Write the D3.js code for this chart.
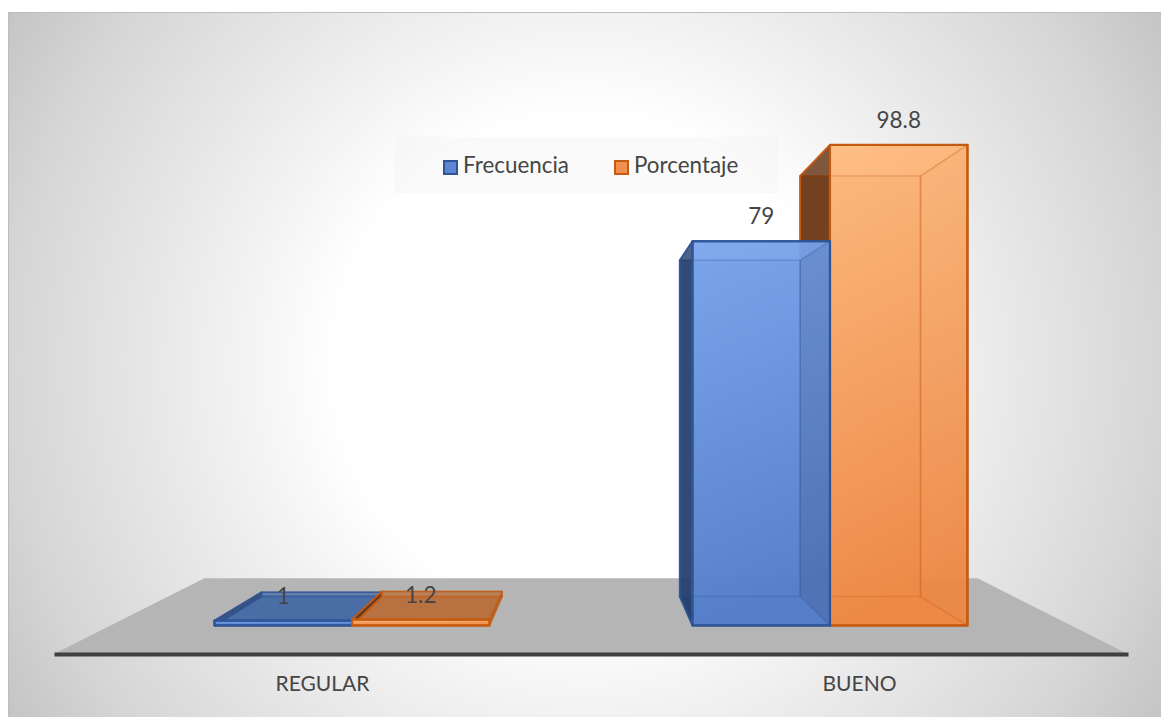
<!DOCTYPE html>
<html lang="en">
<head>
    <meta charset="UTF-8">
    <title>Frecuencia y porcentaje</title>
    <style>
        html, body { margin: 0; padding: 0; background: #fff; }
        svg { display: block; }
        text { font-family: Lato, sans-serif; fill: #454545; }
    </style>
</head>
<body>
<svg width="1161" height="717"></svg>
<script src="https://cdn.jsdelivr.net/npm/d3@7"></script>
<script>
    var categories = ["REGULAR", "BUENO"];
    var seriesNames = ["Frecuencia", "Porcentaje"];
    var frecuencia = [1, 79];
    var porcentaje = [1.2, 98.8];
    var seriesValues = [frecuencia, porcentaje];

    var seriesColors = {
        Frecuencia: {id: "blue", line: "#2f5597", top: "#7ba6ee", bottom: "#5680ca", side: "#1f3864", under: "#46679f", swatch: "#5b86d4", shade: 0.13},
        Porcentaje: {id: "orange", line: "#c55a11", top: "#ffbc80", bottom: "#f08a46", side: "#5c2c0a", under: "#b06a3c", swatch: "#f08f4e", shade: 0.02}
    };

    var svg = d3.select("svg");
    var defs = svg.append("defs");

    // perspective: everything shrinks towards this point, k = 1 is the front of the floor
    var vanish = {x: 591, y: 394},
        floorFront = 654,
        barFront = 0.89,
        barBack = 0.779,
        floorBack = 0.72;

    function project(x, y, k) {
        return [vanish.x + (x - vanish.x) * k, vanish.y + (y - vanish.y) * k];
    }

    var xScale = d3.scaleBand().domain(categories).range([54, 1128]).paddingInner(0.4246).paddingOuter(0.2123);
    var xSeries = d3.scaleBand().domain(seriesNames).range([0, xScale.bandwidth()]);
    var yScale = d3.scaleLinear().domain([0, 100]).range([floorFront, 107.6]);

    // chart area background
    var bgGrad = defs.append("radialGradient")
        .attr("id", "bgGrad")
        .attr("gradientUnits", "userSpaceOnUse")
        .attr("cx", 585).attr("cy", 365).attr("r", 690);
    [[0.36, "#ffffff"], [0.54, "#efefef"], [0.83, "#d6d6d6"], [1, "#c2c2c2"]].forEach(function(s) {
        bgGrad.append("stop").attr("offset", s[0]).attr("stop-color", s[1]);
    });

    svg.append("rect")
        .attr("x", 8).attr("y", 12)
        .attr("width", 1153).attr("height", 705)
        .attr("fill", "url(#bgGrad)");
    svg.append("path")
        .attr("d", "M8.5,717V12.5H1161")
        .attr("fill", "none")
        .attr("stroke", "#bdbdbd");

    // front faces get a vertical gradient per series
    seriesNames.forEach(function(name) {
        var c = seriesColors[name];
        var grad = defs.append("linearGradient")
            .attr("id", "front-" + c.id)
            .attr("x1", 0).attr("y1", 0).attr("x2", 0.15).attr("y2", 1);
        grad.append("stop").attr("offset", 0).attr("stop-color", c.top);
        grad.append("stop").attr("offset", 1).attr("stop-color", c.bottom);
    });

    // floor
    var floorLeft = xScale.range()[0], floorRight = xScale.range()[1];
    svg.append("path")
        .attr("d", d3.line()([
            [floorLeft, floorFront],
            project(floorLeft, floorFront - 4, floorBack),
            project(floorRight, floorFront - 4, floorBack),
            [floorRight, floorFront]
        ]) + "Z")
        .attr("fill", "#b5b5b5");

    // flat list of bars, bars nearest the middle are painted last
    var bars = [];
    categories.forEach(function(cat, i) {
        var names = seriesNames.slice();
        if (xScale(cat) > vanish.x) names.reverse();
        names.forEach(function(name) {
            bars.push({category: cat, series: name, value: seriesValues[seriesNames.indexOf(name)][i]});
        });
    });

    function corners(d, k) {
        var x0 = xScale(d.category) + xSeries(d.series),
            x1 = x0 + xSeries.bandwidth(),
            yTop = yScale(d.value),
            yBase = yScale(0);
        return {
            tl: project(x0, yTop, k),
            tr: project(x1, yTop, k),
            br: project(x1, yBase, k),
            bl: project(x0, yBase, k)
        };
    }

    function face(g, pts, fill, opacity, stroke, strokeOpacity, width) {
        g.append("path")
            .attr("d", d3.line()(pts) + "Z")
            .attr("fill", fill)
            .attr("fill-opacity", opacity)
            .attr("stroke", stroke)
            .attr("stroke-opacity", strokeOpacity)
            .attr("stroke-width", width)
            .attr("stroke-linejoin", "round");
    }

    var barGroups = svg.selectAll(".bar")
        .data(bars)
        .enter()
        .append("g")
        .attr("class", "bar");

    barGroups.each(function(d) {
        var g = d3.select(this),
            c = seriesColors[d.series],
            f = corners(d, barFront),
            b = corners(d, barBack);

        // back, under, top, left, front, then the right side shaded over the front
        face(g, [b.tl, b.tr, b.br, b.bl], c.under, 0.75, c.line, 0.6, 1.5);
        face(g, [f.bl, f.br, b.br, b.bl], c.under, 1, c.line, 0.7, 1.5);
        face(g, [f.tl, f.tr, b.tr, b.tl], c.top, 0.1, c.line, 0.6, 1.5);
        face(g, [f.tl, b.tl, b.bl, f.bl], c.side, 0.78, c.line, 0.9, 2);
        face(g, [f.tl, f.tr, f.br, f.bl], "url(#front-" + c.id + ")", 0.95, c.line, 1, 2.2);
        face(g, [f.tr, b.tr, b.br, f.br], c.side, c.shade, c.line, 0.3, 1.5);
        // back edges show faintly through the glass
        face(g, [b.tl, b.tr, b.br, b.bl], "none", 0, c.line, 0.22, 1.5);
        g.append("path")
            .attr("d", d3.line()([f.tl, f.tr, f.br, f.bl]) + "Z")
            .attr("fill", "none")
            .attr("stroke", c.line)
            .attr("stroke-width", 2)
            .attr("stroke-linejoin", "round");
    });

    // value labels, centred on the front face
    svg.selectAll(".value")
        .data(bars)
        .enter()
        .append("text")
        .attr("class", "value")
        .attr("text-anchor", "middle")
        .attr("font-size", 22.5)
        .attr("x", function(d) {
            var f = corners(d, barFront);
            return (f.tl[0] + f.tr[0]) / 2;
        })
        .attr("y", function(d) { return corners(d, barFront).tl[1] - 17; })
        .text(function(d) { return d.value; });

    // category axis
    var axis = svg.append("g")
        .attr("transform", "translate(0," + floorFront + ")")
        .call(d3.axisBottom(xScale).tickSize(0).tickPadding(22).tickSizeOuter(0));
    axis.select(".domain").attr("stroke", "#404040").attr("stroke-width", 4);
    axis.selectAll("text").attr("font-size", 21).style("font-family", "Lato, sans-serif").attr("fill", "#454545");

    // legend
    svg.append("rect")
        .attr("x", 395).attr("y", 137)
        .attr("width", 383).attr("height", 56)
        .attr("fill", "#f2f2f2")
        .attr("fill-opacity", 0.4);

    var legendX = d3.scaleOrdinal().domain(seriesNames).range([443, 614]);
    var legend = svg.selectAll(".legend")
        .data(seriesNames)
        .enter()
        .append("g")
        .attr("class", "legend")
        .attr("transform", function(d) { return "translate(" + legendX(d) + ",160)"; });

    legend.append("rect")
        .attr("x", 1).attr("y", 1)
        .attr("width", 13).attr("height", 13)
        .attr("fill", function(d) { return seriesColors[d].swatch; })
        .attr("stroke", function(d) { return seriesColors[d].line; })
        .attr("stroke-width", 2);

    legend.append("text")
        .attr("x", 20)
        .attr("y", 13)
        .attr("font-size", 22.4)
        .text(function(d) { return d; });
</script>
</body>
</html>
